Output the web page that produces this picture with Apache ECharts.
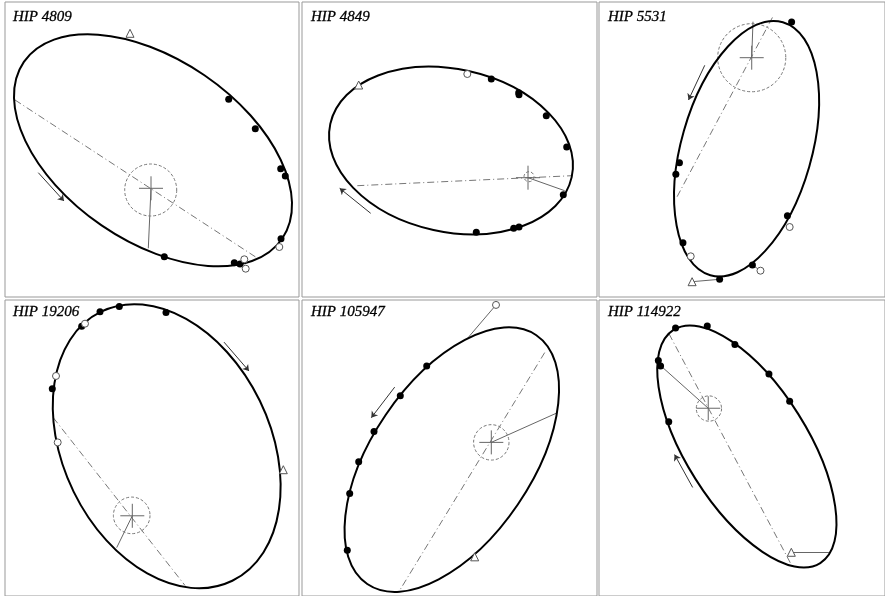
<!DOCTYPE html>
<html><head><meta charset="utf-8">
<script src="https://cdn.jsdelivr.net/npm/echarts@6/dist/echarts.min.js"></script>
<style>html,body{margin:0;padding:0;background:#fff}#c{width:885px;height:596px}</style>
</head><body><div id="c"></div>
<script>
// Panel names
const names = ['HIP 4809', 'HIP 4849', 'HIP 5531', 'HIP 19206', 'HIP 105947', 'HIP 114922'];
// Apparent orbit ellipses per panel: [centerX, centerY, semiMajor, semiMinor, tiltDeg]
const orbits = [
  [153, 150.3, 156.5, 91, 34.4],
  [153, 150.5, 123.6, 81.4, 12.45],
  [154.7, 148.7, 135.3, 65.2, 106],
  [166.7, 152.2, 149.7, 105, 64],
  [153.8, 165.8, 150.4, 80.9, -55.8],
  [155, 152.5, 141.6, 61.6, 57.8]
];
// Filled-circle observations
const filledObs = [
  [[228.7, 99.3], [255.3, 128.7], [280.7, 168.7], [285.3, 176], [281, 238.7], [164.3, 256.7], [234.3, 262.7], [240, 264]],
  [[193.3, 79], [220.7, 92.7], [221, 94.7], [248.3, 115.7], [268.7, 147], [265.3, 194.7], [178.3, 232.3], [215.7, 228.3], [221, 227]],
  [[201, 22], [85.7, 162.7], [82, 174.3], [196.7, 215.7], [89.3, 242.7], [160.7, 265], [127, 279.3]],
  [[119.3, 10.7], [100, 16], [166, 16.7], [81.7, 30.7], [52.3, 94]],
  [[128.7, 71], [102.3, 101], [76, 137.3], [60.7, 168], [51.7, 200], [49.3, 257.7]],
  [[81.7, 32.3], [114.3, 30.3], [142.7, 49], [177.7, 79], [199, 106.7], [64, 65.3], [66.3, 71], [74.7, 127.3]]
];
// Open-circle observations
const openObs = [
  [[279.3, 247], [244.3, 259.3], [245.7, 268.7]],
  [[169.3, 74]],
  [[199, 227], [97.3, 256.3], [169, 270.7]],
  [[85, 28], [56, 81], [57.7, 148.3]],
  [[198, 9]],
  []
];
// Triangle observations
const triObs = [
  [[130, 33.3]],
  [[60.7, 85]],
  [[98.7, 281.7]],
  [[283.3, 176]],
  [[176.7, 264.3]],
  [[200.7, 259.7]]
];
// Line of nodes (dash-dot)
const nodeLines = [
  [[15, 100], [256.7, 257.7]],
  [[59.3, 185.7], [274, 175.7]],
  [[83.3, 196.7], [181.7, 16.7]],
  [[53.3, 123.3], [185, 293.3]],
  [[246.7, 57.3], [101.7, 298.3]],
  [[75, 38.3], [202.7, 276]]
];
// Periastron lines
const periLines = [
  [[151, 188.3], [148.3, 248.3]],
  [[230, 177.7], [266.7, 190.7]],
  [[160, 57.7], [161.3, 21.7]],
  [[132.3, 222.7], [116.7, 255]],
  [[193.3, 148.3], [259.3, 118.3]],
  [[65.7, 70], [115.3, 113.7]]
];
// Primary star positions
const primaries = [[151, 188.3], [230, 177.7], [160, 57.7], [132.3, 222.7], [193.3, 148.3], [115.3, 113.7]];
// Error circles: [x, y, radius]
const errCircles = [[150.7, 190, 26], [231, 176.7, 5], [160, 57.7, 35], [131.7, 222.3, 18.3], [193.3, 148.3, 17.7], [116, 114, 13]];
// Residual connectors
const residuals = [
  [],
  [],
  [[[98.7, 281.7], [127, 279.3]], [[160.7, 265], [169, 270.7]]],
  [],
  [[[198, 9], [168.3, 44.3]]],
  [[[200.7, 259.7], [239.3, 259.7]]]
];
// Direction of motion arrows
const arrows = [
  [[38.3, 172.7], [64, 201]],
  [[72.7, 213.3], [41.7, 188.3]],
  [[111.7, 65.3], [95, 100]],
  [[224, 46.7], [249, 76]],
  [[96.7, 92.3], [73.3, 123.3]],
  [[99.3, 194], [80.7, 160.7]]
];
// Panel local axis ranges
const xRanges = [[5, 299], [4, 299], [3, 297], [5, 299], [4, 299], [3, 297]];
const yRanges = [[2, 297], [2, 297], [2, 297], [4, 304], [4, 304], [4, 304]];

const boxes = [
  {left: 5, top: 2, width: 294, height: 295},
  {left: 302, top: 2, width: 295, height: 295},
  {left: 599, top: 2, width: 294, height: 295},
  {left: 5, top: 300, width: 294, height: 300},
  {left: 302, top: 300, width: 295, height: 300},
  {left: 599, top: 300, width: 294, height: 300}
];
const titlePos = [[13, 10], [311, 10], [608, 10], [13, 305], [311, 305], [608, 305]];

const chart = echarts.init(document.getElementById('c'), null, {renderer: 'canvas'});
const grid = [], xAxis = [], yAxis = [], series = [], title = [];
for (let i = 0; i < 6; i++) {
  grid.push(Object.assign({show: true, borderColor: '#999', borderWidth: 1, backgroundColor: '#fff', containLabel: false}, boxes[i]));
  xAxis.push({type: 'value', gridIndex: i, min: xRanges[i][0], max: xRanges[i][1], show: false});
  yAxis.push({type: 'value', gridIndex: i, min: yRanges[i][0], max: yRanges[i][1], inverse: true, show: false});
  title.push({text: names[i], left: titlePos[i][0], top: titlePos[i][1], padding: 0,
    textStyle: {fontFamily: 'Liberation Serif', fontStyle: 'italic', fontWeight: 'normal', fontSize: 15, color: '#000',
      textBorderColor: '#000', textBorderWidth: 0.3}});
  const ax = {xAxisIndex: i, yAxisIndex: i};
  series.push(Object.assign({
    type: 'custom', z: 2, silent: true, data: [orbits[i]],
    renderItem: function (params, api) {
      const c = api.coord([api.value(0), api.value(1)]);
      const s = api.size([api.value(2), api.value(3)]);
      return {type: 'ellipse', x: c[0], y: c[1], rotation: -api.value(4) * Math.PI / 180,
        shape: {cx: 0, cy: 0, rx: s[0], ry: s[1]},
        style: {fill: 'none', stroke: '#000', lineWidth: 2}};
    }
  }, ax));
  series.push(Object.assign({
    type: 'lines', coordinateSystem: 'cartesian2d', z: 1, silent: true,
    data: [{coords: nodeLines[i]}],
    lineStyle: {color: '#777', width: 1, type: [7, 3, 1, 3], opacity: 1}, symbol: 'none'
  }, ax));
  series.push(Object.assign({
    type: 'lines', coordinateSystem: 'cartesian2d', z: 1, silent: true,
    data: [{coords: periLines[i]}].concat(residuals[i].map(r => ({coords: r}))),
    lineStyle: {color: '#666', width: 1, opacity: 1}, symbol: 'none'
  }, ax));
  series.push(Object.assign({
    type: 'lines', coordinateSystem: 'cartesian2d', z: 1, silent: true,
    data: [{coords: arrows[i]}],
    lineStyle: {color: '#333', width: 1, opacity: 1}, symbol: ['none', 'arrow'], symbolSize: 6
  }, ax));
  series.push(Object.assign({
    type: 'custom', z: 1, silent: true, data: [primaries[i]],
    renderItem: function (params, api) {
      const c = api.coord([api.value(0), api.value(1)]);
      const L = 12;
      return {type: 'group', children: [
        {type: 'line', shape: {x1: c[0] - L, y1: c[1], x2: c[0] + L, y2: c[1]}, style: {stroke: '#666', lineWidth: 1}},
        {type: 'line', shape: {x1: c[0], y1: c[1] - L, x2: c[0], y2: c[1] + L}, style: {stroke: '#666', lineWidth: 1}}
      ]};
    }
  }, ax));
  series.push(Object.assign({
    type: 'custom', z: 1, silent: true, data: [errCircles[i]],
    renderItem: function (params, api) {
      const c = api.coord([api.value(0), api.value(1)]);
      const r = api.size([api.value(2), 0])[0];
      return {type: 'circle', shape: {cx: c[0], cy: c[1], r: r},
        style: {fill: 'none', stroke: '#777', lineWidth: 1, lineDash: [3, 2]}};
    }
  }, ax));
  series.push(Object.assign({
    type: 'scatter', z: 4, silent: true, data: filledObs[i], symbol: 'circle', symbolSize: 7,
    itemStyle: {color: '#000', opacity: 1}
  }, ax));
  series.push(Object.assign({
    type: 'scatter', z: 4, silent: true, data: openObs[i], symbol: 'circle', symbolSize: 7,
    itemStyle: {color: '#fff', borderColor: '#555', borderWidth: 1, opacity: 1}
  }, ax));
  series.push(Object.assign({
    type: 'scatter', z: 4, silent: true, data: triObs[i], symbol: 'triangle', symbolSize: 8,
    itemStyle: {color: '#fff', borderColor: '#555', borderWidth: 1, opacity: 1}
  }, ax));
}
chart.setOption({animation: false, backgroundColor: '#fff', title, grid, xAxis, yAxis, series});
</script></body></html>
